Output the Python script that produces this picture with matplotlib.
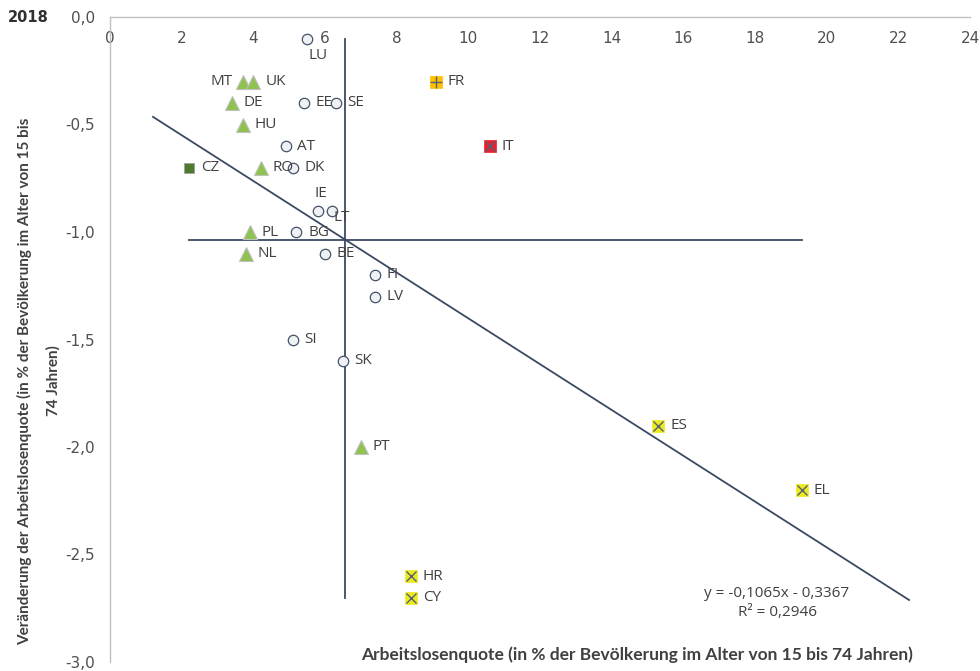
import matplotlib
matplotlib.use("Agg")
import matplotlib.pyplot as plt
import numpy as np
from matplotlib.ticker import FuncFormatter

# ---- data ----
countries = ["LU", "MT", "UK", "DE", "EE", "SE", "HU", "AT", "CZ", "RO", "DK",
             "IE", "LT", "PL", "BG", "NL", "BE", "FI", "LV", "SI", "SK", "PT",
             "FR", "IT", "ES", "EL", "HR", "CY"]
unemployment = [5.5, 3.7, 4.0, 3.4, 5.4, 6.3, 3.7, 4.9, 2.2, 4.2, 5.1,
                5.8, 6.2, 3.9, 5.2, 3.8, 6.0, 7.4, 7.4, 5.1, 6.5, 7.0,
                9.1, 10.6, 15.3, 19.3, 8.4, 8.4]
change = [-0.1, -0.3, -0.3, -0.4, -0.4, -0.4, -0.5, -0.6, -0.7, -0.7, -0.7,
          -0.9, -0.9, -1.0, -1.0, -1.1, -1.1, -1.2, -1.3, -1.5, -1.6, -2.0,
          -0.3, -0.6, -1.9, -2.2, -2.6, -2.7]
groups = ["neutral", "good", "good", "good", "neutral", "neutral", "good", "neutral", "best", "good", "neutral",
          "neutral", "neutral", "good", "neutral", "good", "neutral", "neutral", "neutral", "neutral", "neutral", "good",
          "watch", "weak", "critical", "critical", "critical", "critical"]
x_ticks = [0, 2, 4, 6, 8, 10, 12, 14, 16, 18, 20, 22, 24]
y_ticks = [0.0, -0.5, -1.0, -1.5, -2.0, -2.5, -3.0]
trend_slope = -0.1065
trend_intercept = -0.3367
r_squared = 0.2946
year_label = "2018"
x_title = "Arbeitslosenquote (in % der Bevölkerung im Alter von 15 bis 74 Jahren)"
y_title_1 = "Veränderung der Arbeitslosenquote (in % der Bevölkerung im Alter von 15 bis"
y_title_2 = "74 Jahren)"

# ---- styles ----
LINE = "#3b4a62"
TXT = "#404040"
styles = {
    "neutral": [dict(marker="o", ms=7.5, mfc="#f0f1f4", mec="#44546a", mew=0.9)],
    "good": [dict(marker="^", ms=10, mfc="#8fc24f", mec="#c0c0c0", mew=0.8)],
    "best": [dict(marker="s", ms=7.5, mfc="#4f7a2e", mec="#a0a0a0", mew=0.6)],
    "watch": [dict(marker="s", ms=8, mfc="#ffc000", mec="#ffc000", mew=0.5),
              dict(marker="+", ms=8, mfc="none", mec="#55607a", mew=1.0)],
    "weak": [dict(marker="s", ms=8, mfc="#e8202a", mec="#e8202a", mew=0.5),
             dict(marker="x", ms=7, mfc="none", mec="#55607a", mew=1.0)],
    "critical": [dict(marker="s", ms=8, mfc="#ecea1c", mec="#ecea1c", mew=0.5),
                 dict(marker="x", ms=7, mfc="none", mec="#55607a", mew=1.0)],
}
label_pos = {
    "LU": ((8, -12), "center"), "MT": ((-7, 0), "right"), "IE": ((2, 12), "center"),
    "LT": ((1, -5), "left"),
}

fig = plt.figure(figsize=(9.8, 6.71), dpi=100)
ax = fig.add_axes([110 / 980, 1 - 662 / 671, 860 / 980, 645 / 671])
ax.set_xlim(0, 24)
ax.set_ylim(-3.0, 0.0)

x = np.array(unemployment)
y = np.array(change)

# mean lines spanning the data range
ax.plot([x.mean(), x.mean()], [y.max(), y.min()], color=LINE, lw=1.3, zorder=2)
ax.plot([x.min(), x.max()], [y.mean(), y.mean()], color=LINE, lw=1.3, zorder=2)

# trend line (extended 1 back, 3 forward)
tx = np.array([x.min() - 1.0, x.max() + 3.0])
ax.plot(tx, trend_slope * tx + trend_intercept, color=LINE, lw=1.3, zorder=2)

for c, xi, yi, g in zip(countries, unemployment, change, groups):
    for st in styles[g]:
        ax.plot([xi], [yi], linestyle="none", zorder=4, **st)
    off, ha = label_pos.get(c, ((8.5, 0), "left"))
    ax.annotate(c, (xi, yi), xytext=off, textcoords="offset points",
                ha=ha, va="center", fontsize=11, color=TXT, family="Open Sans", zorder=5)

ax.text(0.7756, 0.0915, f"y = {trend_slope:.4f}x - {abs(trend_intercept):.4f}".replace(".", ",")
        + "\n" + f"R² = {r_squared:.4f}".replace(".", ","),
        transform=ax.transAxes, ha="center", va="center", fontsize=11, color=TXT,
        family="Open Sans", linespacing=1.4)

# axes styling
for s in ["right", "bottom"]:
    ax.spines[s].set_visible(False)
for s in ["top", "left"]:
    ax.spines[s].set_color("#c0c0c0")
    ax.spines[s].set_linewidth(1.0)

ax.set_xticks(x_ticks)
ax.set_yticks(y_ticks)
ax.xaxis.set_major_formatter(FuncFormatter(lambda v, p: f"{v:g}"))
ax.yaxis.set_major_formatter(FuncFormatter(lambda v, p: f"{v:.1f}".replace(".", ",")))
ax.tick_params(axis="x", top=True, labeltop=True, bottom=False, labelbottom=False,
               length=0, pad=-21, labelsize=11, labelcolor="#505050")
ax.tick_params(axis="y", length=0, pad=11, labelsize=11, labelcolor="#505050")
for lab in ax.get_xticklabels() + ax.get_yticklabels():
    lab.set_family("DejaVu Sans")

fig.text(637 / 980, 1 - 655 / 671, x_title, ha="center", va="center",
         fontsize=12.5, fontweight="bold", color=TXT, family="Lato")
fig.text(25 / 980, 1 - 381 / 671, y_title_1, ha="center", va="center", rotation=90,
         fontsize=11, fontweight="bold", color=TXT, family="Lato")
fig.text(53 / 980, 1 - 381 / 671, y_title_2, ha="center", va="center", rotation=90,
         fontsize=11, fontweight="bold", color=TXT, family="Lato")
fig.text(28 / 980, 1 - 17 / 671, year_label, ha="center", va="center",
         fontsize=10.5, fontweight="bold", color="#303030", family="DejaVu Sans")

fig.savefig("out.png", dpi=100)
